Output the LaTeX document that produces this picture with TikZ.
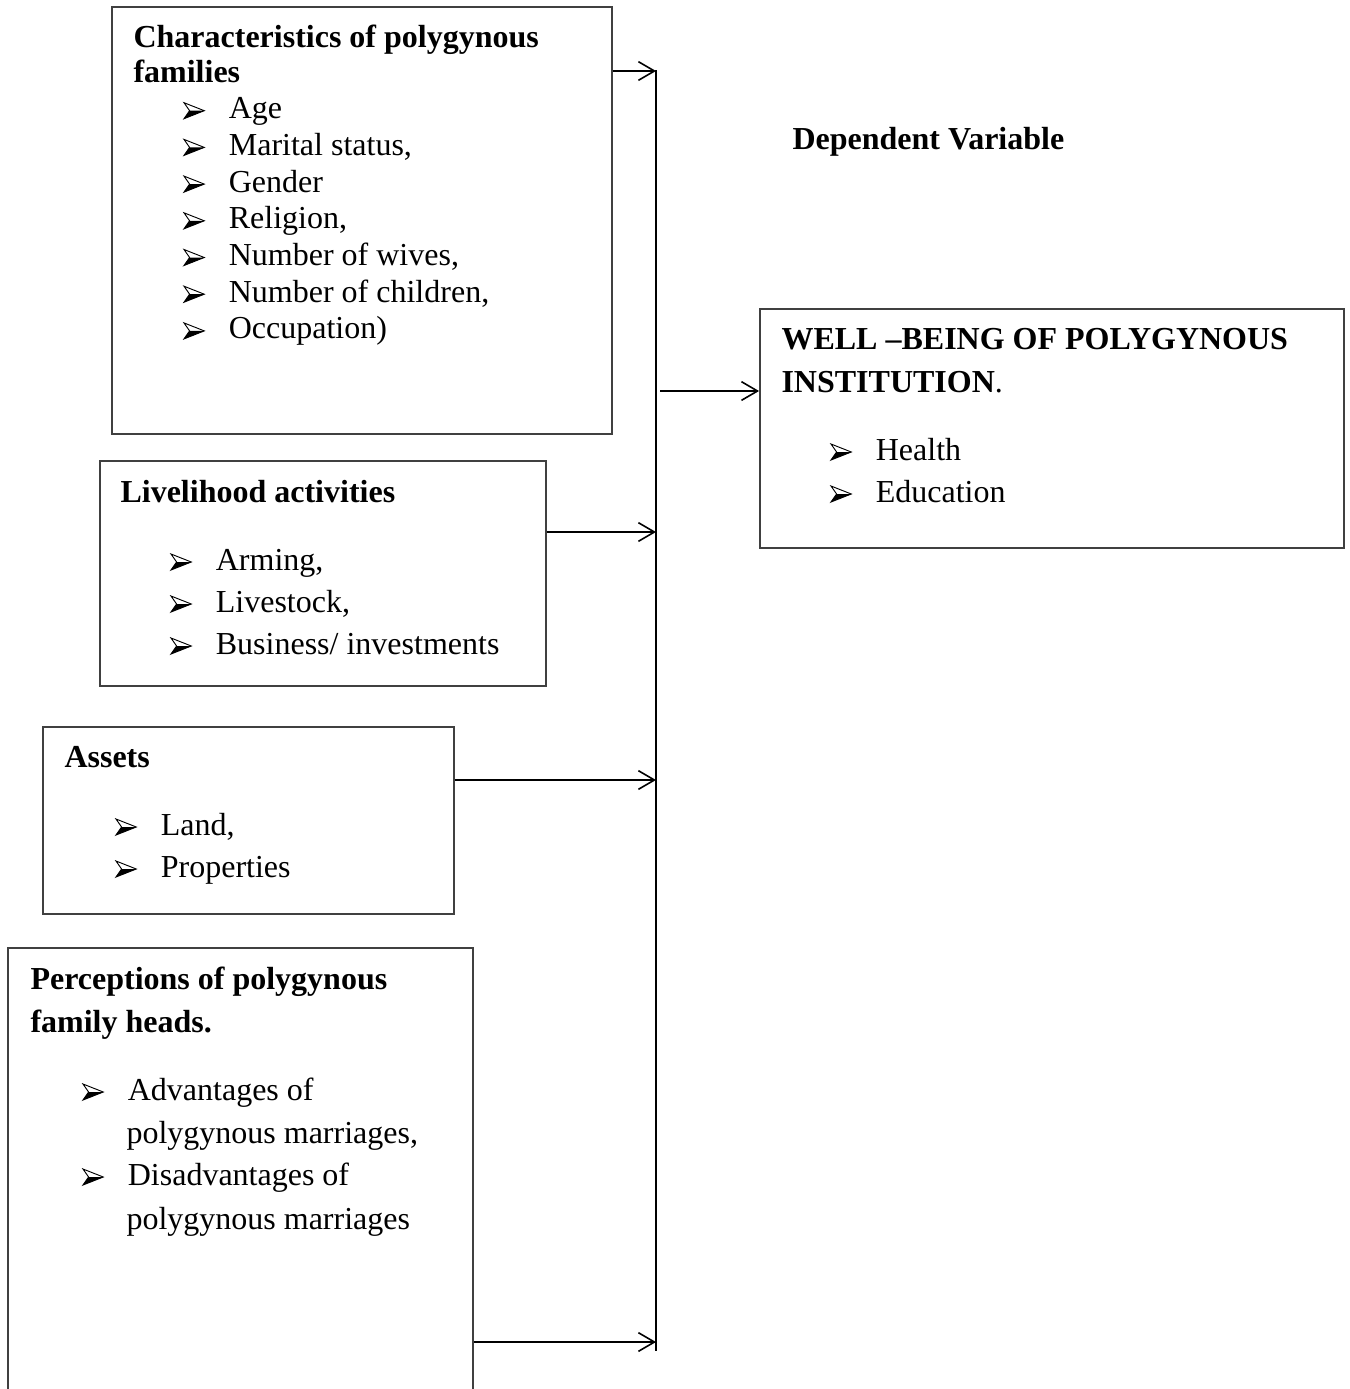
\documentclass[tikz,border=0pt]{standalone}
\usepackage{fontspec}
\setmainfont{Liberation Serif}
\usetikzlibrary{arrows.meta,positioning,fit}

% arrowhead bullet, upper half open, lower half filled
\newcommand{\bul}{\makebox[17pt][l]{\tikz[baseline=0pt,x=1pt,y=1pt]{%
    \draw[line width=0.35pt, line join=miter] (0,6) -- (7.6,3) -- (0,0) -- (2.1,3) -- cycle;
    \fill (2.1,3) -- (7.6,3) -- (0,0) -- cycle;}}}

\tikzset{
  box/.style={draw=black!75, line width=0.7pt, inner sep=0pt},
  txt/.style={anchor=base west, inner sep=0pt, font=\fontsize{12}{14}\selectfont},
  head/.style={txt, font=\fontsize{12}{14}\selectfont\bfseries},
  bus/.style={line width=0.6pt},
  link/.style={line width=0.6pt, -{Straight Barb[length=6pt,width=7pt]}},
}

\begin{document}
\begin{tikzpicture}[x=0.375pt,y=-0.375pt]
        \useasboundingbox (0,0) rectangle (1349,1389);
        \clip (0,0) rectangle (1349,1389);

        \node[box, fit={(112,7) (612,434)}] (chars) {};
        \node[box, fit={(100,461) (546,686)}] (live) {};
        \node[box, fit={(43,727) (454,914)}] (assets) {};
        \node[box, fit={(8,948) (473,1430)}] (percep) {}; % runs past the page
        \node[box, fit={(760,309) (1344,548)}] (well) {};

        \node[head] (charsT1) at (133,47) {Characteristics of polygynous};
        \node[head] (charsT2) at (133,82) {families};
        \foreach \t [count=\i] in {Age, {Marital status,}, Gender, {Religion,},
            {Number of wives,}, {Number of children,}, {Occupation)}}
            \node[txt] (c\i) at (183,82+36.7*\i) {\bul\t};

        \node[head] (liveT) at (120,502) {Livelihood activities};
        \foreach \t [count=\i] in {{Arming,}, {Livestock,}, {Business/ investments}}
            \node[txt] (l\i) at (170,528+42*\i) {\bul\t};

        \node[head] (assetsT) at (64,767) {Assets};
        \foreach \t [count=\i] in {{Land,}, Properties}
            \node[txt] (a\i) at (115,793+42*\i) {\bul\t};

        \node[head] (percepT1) at (30,989) {Perceptions of polygynous};
        \node[head] (percepT2) at (30,1032) {family heads.};
        \node[txt] (p1) at (82,1100) {\bul Advantages of};
        \node[txt] (p2) at (126,1143) {polygynous marriages,};
        \node[txt] (p3) at (82,1185) {\bul Disadvantages of};
        \node[txt] (p4) at (126,1229) {polygynous marriages};

        \node[head] (dep) at (792,149) {Dependent Variable};
        \node[head] (wellT1) at (781,349) {WELL –BEING OF POLYGYNOUS};
        \node[head] (wellT2) at (781,392) {INSTITUTION\mdseries.};
        \node[txt] (w1) at (830,460) {\bul Health};
        \node[txt] (w2) at (830,502) {\bul Education};

        % collecting line
        \coordinate (busTop) at (656,70);
        \coordinate (busBot) at (656,1351);
        \draw[bus] (busTop) -- (busBot);

        \coordinate (b1) at (656,71);
        \coordinate (b2) at (656,532);
        \coordinate (b3) at (656,780);
        \coordinate (b4) at (656,1342);
        \coordinate (b0) at (660,391);

        \draw[link] (chars.east |- b1) -- (b1);
        \draw[link] (live.east |- b2) -- (b2);
        \draw[link] (assets.east |- b3) -- (b3);
        \draw[link] (percep.east |- b4) -- (b4);
        \draw[link] (b0) -- (well.west |- b0);
\end{tikzpicture}
\end{document}
